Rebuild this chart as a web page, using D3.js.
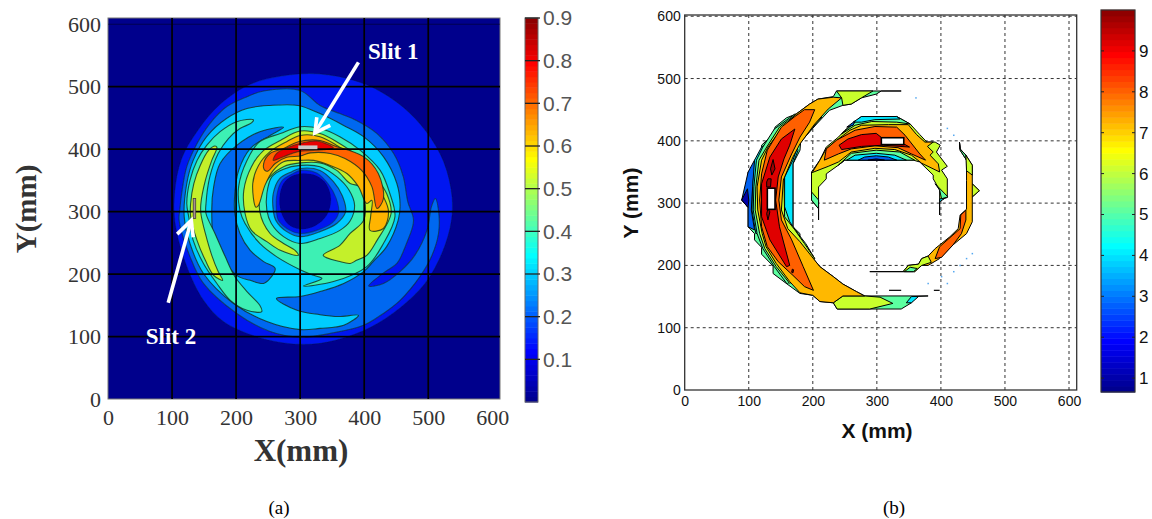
<!DOCTYPE html>
<html>
<head>
<meta charset="utf-8">
<script src="https://cdn.jsdelivr.net/npm/d3@7"></script>
<style>
body { margin: 0; background: #fff; }
svg { display: block; }
</style>
</head>
<body>
<script>
// tick labels
const leftTicks = [0, 100, 200, 300, 400, 500, 600];
const leftGrid = [100, 200, 300, 400, 500];
const rightTicks = [0, 100, 200, 300, 400, 500, 600];
const leftBarTicks = [0.1, 0.2, 0.3, 0.4, 0.5, 0.6, 0.7, 0.8, 0.9];
const rightBarTicks = [1, 2, 3, 4, 5, 6, 7, 8, 9];

// panel (a) contour rings, [x mm, y mm]
const ringOuter = [[320,521],[370,514],[415,498],[460,468],[497,428],[524,380],[537,325],[536,285],[522,235],[495,185],[455,145],[410,115],[365,97],[320,88],[272,90],[225,102],[180,124],[149,158],[122,215],[105,280],[104,330],[115,385],[140,430],[175,472],[222,504],[270,517]];
const ringMid = [[300,494],[331,470],[362,457],[388,446],[420,425],[446,393],[461,356],[468,316],[477,286],[466,249],[451,217],[433,204],[407,181],[430,185],[456,204],[479,230],[498,270],[505,308],[511,321],[516,302],[516,265],[505,228],[487,196],[456,158],[430,137],[399,118],[352,106],[300,99],[253,108],[201,137],[149,185],[128,228],[111,286],[112,302],[115,329],[123,372],[139,409],[159,441],[185,468],[217,484],[243,493]];
const ringCyan = [[297,470],[331,457],[368,438],[399,420],[430,388],[451,345],[456,310],[453,286],[435,244],[414,220],[399,204],[368,185],[331,172],[300,164],[263,161],[295,142],[331,135],[360,132],[391,134],[368,118],[331,113],[300,111],[248,124],[196,153],[149,201],[128,249],[119,292],[123,345],[133,382],[154,420],[185,449],[217,465],[253,470]];
const holeLeft = [[274,435],[237,428],[201,406],[175,377],[165,340],[162,302],[167,249],[201,198],[222,190],[243,185],[253,193],[261,209],[243,220],[222,238],[206,265],[198,297],[198,329],[204,366],[222,401],[253,422]];
const armGreen = [[227,447],[201,444],[175,428],[154,406],[139,382],[128,350],[123,313],[126,292],[133,254],[149,217],[170,185],[191,158],[217,142],[240,140],[237,150],[217,172],[198,196],[183,228],[167,265],[153,297],[153,313],[159,356],[172,393],[188,417],[206,433],[224,442]];
const armYellow = [[167,405],[157,398],[144,374],[134,345],[129,313],[129,292],[139,254],[152,222],[165,198],[179,190],[172,204],[162,230],[152,265],[145,297],[145,313],[152,350],[162,382],[170,403]];
const coreGreen = [[206,302],[204,340],[217,382],[237,412],[269,425],[300,436],[331,433],[362,420],[394,398],[425,366],[440,329],[448,292],[430,249],[404,212],[352,188],[305,181],[334,193],[321,198],[300,207],[263,228],[237,249],[214,281]];
const coreYellow = [[297,230],[269,238],[248,252],[224,270],[214,297],[212,334],[224,372],[243,398],[269,414],[300,429],[331,425],[357,412],[388,390],[417,356],[435,329],[442,297],[420,254],[404,230],[388,222],[378,217],[362,220],[336,230],[362,246],[378,265],[399,286],[401,318],[394,340],[378,345],[357,366],[331,378],[300,378],[274,372],[253,356],[240,334],[237,300],[253,265],[274,249],[292,238]];
const coreGold = [[231,307],[226,345],[235,374],[253,396],[279,412],[300,422],[331,420],[357,406],[386,385],[412,353],[430,324],[438,300],[430,273],[409,270],[410,292],[412,318],[404,313],[391,340],[373,361],[347,374],[321,382],[300,382],[274,380],[258,366],[245,342],[235,310]];
const coreOrange = [[245,366],[243,377],[253,393],[274,401],[297,412],[331,414],[352,406],[399,388],[422,361],[430,321],[420,305],[412,340],[396,366],[370,385],[347,393],[316,394],[300,389],[279,387],[261,377],[250,365]];
const coreRed = [[258,382],[263,393],[284,404],[300,409],[326,413],[352,402],[336,399],[297,396],[274,388]];
const hubGreen = [[300,374],[331,372],[357,356],[376,335],[385,310],[378,285],[362,270],[331,257],[300,249],[274,260],[255,281],[248,302],[248,329],[256,356],[274,368]];
const hubCyan = [[300,369],[331,366],[352,348],[366,325],[371,300],[357,281],[331,268],[300,260],[279,268],[262,286],[258,302],[258,329],[268,353],[287,364]];
const hubBlue = [[300,366],[326,362],[344,344],[356,322],[360,298],[350,282],[326,270],[300,265],[284,270],[266,286],[263,302],[264,329],[272,350],[289,361]];
const hubDark = [[268,324],[274,345],[287,357],[305,361],[326,357],[341,344],[348,321],[342,295],[323,277],[300,272],[281,280],[270,300]];

// slits and arrows of panel (a)
const slitLeft = [[297, 400], [327, 406], [133, 289], [137, 321]];
const arrowLines = [
  [[391,539],[323,426]], [[326,451],[323,426],[347,438]],
  [[94,154],[130,286]], [[108,264],[130,286],[133,259]]
];

// panel (b) outer crescent, [x mm, y mm]
const crescent = [[338,480],[237,480],[232,471],[208,467],[195,459],[174,443],[159,437],[141,422],[138,410],[120,393],[120,379],[109,369],[108,358],[99,350],[98,326],[89,305],[99,293],[99,262],[109,251],[109,241],[120,229],[120,218],[138,199],[138,187],[160,170],[180,155],[200,152],[211,142],[232,140],[238,130],[338,130],[354,140],[359,150],[380,151],[281,151],[268,158],[247,170],[232,182],[211,198],[190,224],[180,241],[180,251],[169,262],[169,363],[180,385],[181,398],[206,427],[226,449],[247,457],[260,459],[276,469],[299,475],[307,480]];
const crescentBlue = [[89,305],[99,350],[109,369],[109,358],[106,326],[104,289],[109,257],[99,262],[99,293]];
const crescentNavy = [[89,305],[98,323],[100,305],[99,293]];
const crescentCyan = [[120,390],[109,369],[106,326],[105,289],[111,251],[169,262],[169,363],[177,385],[160,420]];
const crescentGreen = [[140,419],[122,390],[112,369],[108,326],[107,289],[113,251],[122,227],[140,198],[160,170],[203,211],[189,235],[177,251],[164,270],[156,294],[156,342],[169,369],[177,393],[193,417],[206,433],[172,443]];
const crescentYellow = [[172,441],[148,422],[128,390],[116,369],[111,326],[110,289],[117,251],[125,227],[143,198],[164,171],[203,211],[187,235],[172,257],[156,278],[155,342],[167,374],[180,398],[203,425],[214,438]];
const crescentTop = [[237,480],[294,480],[276,469],[260,459],[247,457],[245,469]];
const crescentFoot = [[238,130],[289,130],[325,139],[305,149],[281,151],[247,151],[232,140]];
const crescentFootCyan = [[346,140],[354,150],[365,150],[354,140]];
const crescentGold = [[208,467],[232,470],[245,469],[224,451],[203,427],[180,395],[169,374],[154,337],[151,289],[161,259],[180,238],[211,198],[232,182],[247,170],[268,158],[281,151],[247,151],[232,140],[211,142],[200,152],[180,156],[164,174],[143,203],[127,230],[121,251],[114,289],[113,326],[120,369],[130,390],[151,419],[174,443],[195,459]];
const crescentOrange = [[203,450],[195,430],[180,406],[167,379],[151,342],[147,305],[151,273],[167,241],[185,198],[201,160],[187,166],[169,184],[146,206],[129,230],[120,262],[117,305],[120,347],[129,385],[151,422],[172,439],[187,450]];
const crescentRed = [[172,419],[164,393],[155,371],[146,342],[142,305],[148,262],[164,200],[159,198],[133,241],[120,278],[120,331],[133,374],[151,403]];
const crescentPeaks = [
  [[138,370],[141,355],[136,345],[134,355]],
  [[130,339],[135,339],[134,326],[128,326],[128,334]],
  [[130,291],[133,286],[130,273],[128,283]],
  [[168,194],[170,193],[169,188],[167,189]]
];

// panel (b) inner arc
const arc = [[198,350],[211,369],[221,390],[240,406],[250,417],[276,439],[331,439],[352,427],[367,410],[378,398],[391,398],[399,393],[393,382],[410,359],[401,353],[410,339],[410,309],[398,305],[398,281],[398,321],[388,339],[388,345],[367,366],[357,369],[250,369],[240,361],[221,347],[221,339],[209,326],[209,273],[209,291],[198,305]];
const arcGreenLeft = [[198,318],[209,305],[209,291],[198,305]];
const arcGreenRight = [[391,331],[411,310],[401,307],[398,321]];
const arcCyanRight = [[398,307],[405,307],[398,302]];
const arcTopGreen = [[245,411],[276,439],[331,439],[352,427],[331,430],[292,431],[266,425]];
const arcTopCyan = [[263,430],[276,439],[331,439],[336,435],[297,434],[276,430]];
const arcTopBlue = [[253,422],[266,432],[263,425]];
const arcBaseGreen = [[240,361],[260,380],[299,385],[336,382],[359,369],[250,369]];
const arcBaseCyan = [[253,369],[266,377],[299,380],[328,377],[346,369]];
const arcBaseBlue = [[271,369],[281,374],[299,376],[318,374],[331,369]];
const arcBaseNavy = [[286,369],[299,371],[312,369]];
const arcGold = [[199,349],[211,369],[221,387],[240,403],[258,417],[276,425],[318,426],[349,426],[362,410],[375,398],[388,398],[379,391],[388,382],[383,377],[396,363],[398,350],[370,364],[354,377],[328,386],[297,388],[260,382],[240,366],[224,359]];
const arcOrange = [[218,369],[221,387],[237,401],[266,417],[297,423],[331,422],[344,409],[367,379],[376,369],[354,379],[333,389],[297,392],[260,387],[240,379]];
const arcRed = [[241,393],[255,403],[276,410],[299,412],[310,403],[344,394],[351,390],[310,393],[276,391],[245,386]];
const slitRight = [[307, 394], [342, 405], [129, 290], [141, 324]];

// panel (b) right hand part
const side = [[429,398],[430,387],[439,377],[449,361],[449,331],[460,320],[449,310],[449,270],[440,251],[419,233],[398,211],[380,200],[370,200],[359,190],[289,190],[341,190],[349,200],[365,202],[370,211],[380,215],[391,227],[414,246],[427,259],[430,281],[440,290],[440,336],[440,369],[430,385]];
const sideOrange = [[439,289],[431,281],[430,259],[398,230],[391,211],[401,213],[419,233],[432,251],[439,273]];
const sideYellow = [[341,190],[349,200],[365,202],[370,211],[380,215],[385,205],[370,200],[359,190]];
const sideGreen = [[343,190],[352,197],[363,195],[357,190]];
const sideTopGreen = [[429,398],[430,387],[439,377],[440,369],[430,385]];
const sideTopYellow = [[439,377],[449,361],[449,345],[440,352]];
const sideTipYellow = [[449,331],[460,320],[449,310]];
const strayLines = [[[319,160],[338,160]], [[389,160],[398,160]]];
const strayDots = [[361,469],[410,420],[420,409],[449,219],[440,211],[430,200],[420,190],[401,182],[380,171],[410,171]];

var svg = d3.select("body").append("svg").attr("width", 1152).attr("height", 519);

var jet = d3.scaleLinear()
  .domain([0, 0.125, 0.375, 0.625, 0.875, 1])
  .range(["#00008f", "#0000ff", "#00ffff", "#ffff00", "#ff0000", "#800000"]);

var navy = "#00008c", bright = "#0018f0", mid = "#0068f0", cyan = "#00ccff", green = "#3cf0b4",
    yellow = "#c4f02c", gold = "#ffb400", orange = "#ff6400", red = "#e80000";

// ---------- panel (a)
var xL = d3.scaleLinear().domain([0, 612]).range([108, 500]);
var yL = d3.scaleLinear().domain([0, 610]).range([399, 18]);

var defs = svg.append("defs");
defs.append("filter").attr("id", "soft").append("feGaussianBlur").attr("stdDeviation", 0.55);

var smooth = d3.line().x(d => xL(d[0])).y(d => yL(d[1])).curve(d3.curveCatmullRomClosed.alpha(0.5));

var gL = svg.append("g").attr("filter", "url(#soft)");
gL.append("rect").attr("x", xL(0)).attr("y", yL(610)).attr("width", xL(612) - xL(0)).attr("height", yL(0) - yL(610))
  .attr("fill", navy).attr("stroke", "#777").attr("stroke-width", 1);

function ring(pts, fill, lineOp) {
  gL.append("path").attr("d", smooth(pts)).attr("fill", fill)
    .attr("stroke", "#10301c").attr("stroke-opacity", lineOp).attr("stroke-width", 1.1);
}
ring(ringOuter, bright, 0.25);
ring(ringMid, mid, 0.6);
ring(ringCyan, cyan, 0.8);
ring(holeLeft, mid, 0.8);
ring(armGreen, green, 0.8);
ring(armYellow, yellow, 0.8);
ring(coreGreen, green, 0.8);
ring(coreYellow, yellow, 0.8);
ring(coreGold, gold, 0.8);
ring(coreOrange, orange, 0.8);
ring(coreRed, red, 0.6);
ring(hubGreen, cyan, 0.8);
ring(hubCyan, mid, 0.7);
ring(hubBlue, bright, 0.4);
ring(hubDark, navy, 0.1);

leftGrid.forEach(function (v) {
  gL.append("line").attr("x1", xL(v)).attr("x2", xL(v)).attr("y1", yL(610)).attr("y2", yL(0))
    .attr("stroke", "#000").attr("stroke-width", 1.7);
  gL.append("line").attr("x1", xL(0)).attr("x2", xL(612)).attr("y1", yL(v)).attr("y2", yL(v))
    .attr("stroke", "#000").attr("stroke-width", 1.7);
});
gL.append("line").attr("x1", xL(0)).attr("x2", xL(612)).attr("y1", yL(600)).attr("y2", yL(600))
  .attr("stroke", "#111").attr("stroke-opacity", 0.5);

// slits
gL.append("rect").attr("x", xL(slitLeft[0][0])).attr("y", yL(slitLeft[1][1]))
  .attr("width", xL(slitLeft[1][0]) - xL(slitLeft[0][0])).attr("height", yL(slitLeft[0][1]) - yL(slitLeft[1][1]))
  .attr("fill", "#c8c8c8");
gL.append("rect").attr("x", xL(slitLeft[2][0])).attr("y", yL(slitLeft[3][1]))
  .attr("width", xL(slitLeft[3][0]) - xL(slitLeft[2][0])).attr("height", yL(slitLeft[2][1]) - yL(slitLeft[3][1]))
  .attr("fill", "#a89090").attr("stroke", "#333").attr("stroke-width", 0.7);

var straight = d3.line().x(d => xL(d[0])).y(d => yL(d[1]));
arrowLines.forEach(function (a) {
  gL.append("path").attr("d", straight(a)).attr("fill", "none")
    .attr("stroke", "#fff").attr("stroke-width", 3.6).attr("stroke-linejoin", "miter");
});

var slitText = svg.append("g").attr("font-family", "'Liberation Serif'").attr("font-weight", "bold")
  .attr("font-size", 23).attr("fill", "#fff");
slitText.append("text").attr("x", xL(406)).attr("y", yL(544)).text("Slit 1");
slitText.append("text").attr("x", xL(59)).attr("y", yL(88)).text("Slit 2");

// axes of panel (a)
var axL = svg.append("g").attr("transform", "translate(0,399)")
  .call(d3.axisBottom(xL).tickValues(leftTicks).tickSize(0).tickPadding(10));
var ayL = svg.append("g").attr("transform", "translate(108,0)")
  .call(d3.axisLeft(yL).tickValues(leftTicks).tickSize(0).tickPadding(7));
[axL, ayL].forEach(function (a) {
  a.select(".domain").remove();
  a.selectAll("text").attr("font-family", "'Liberation Serif'").attr("font-size", 22).attr("fill", "#333");
});
svg.append("text").attr("x", 301).attr("y", 461).attr("text-anchor", "middle")
  .attr("font-family", "'Liberation Serif'").attr("font-weight", "bold").attr("font-size", 31).attr("fill", "#333").text("X(mm)");
svg.append("text").attr("transform", "translate(36,209) rotate(-90)").attr("text-anchor", "middle")
  .attr("font-family", "'Liberation Serif'").attr("font-weight", "bold").attr("font-size", 29).attr("fill", "#333").text("Y(mm)");

// colorbar of panel (a)
var barL = d3.scaleLinear().domain([0, 0.9]).range([402, 18]);
d3.range(0, 0.9, 0.0125).forEach(function (v) {
  svg.append("rect").attr("x", 525).attr("width", 13).attr("y", barL(v + 0.0125)).attr("height", barL(v) - barL(v + 0.0125) + 0.5)
    .attr("fill", jet(v / 0.9));
});
svg.append("rect").attr("x", 525).attr("y", 18).attr("width", 13).attr("height", 384)
  .attr("fill", "none").attr("stroke", "#666");
var cbL = svg.append("g").attr("transform", "translate(538,0)")
  .call(d3.axisRight(barL).tickValues(leftBarTicks).tickSize(0).tickPadding(5).tickFormat(d3.format(".1f")));
cbL.select(".domain").remove();
cbL.selectAll("text").attr("font-family", "'Liberation Sans'").attr("font-size", 21).attr("fill", "#555");
leftBarTicks.forEach(function (v) {
  svg.append("line").attr("x1", 525).attr("x2", 540).attr("y1", barL(v)).attr("y2", barL(v))
    .attr("stroke", "#222").attr("stroke-width", 1.3);
});

// ---------- panel (b)
var xR = d3.scaleLinear().domain([0, 612]).range([684.7, 1076.7]);
var yR = d3.scaleLinear().domain([0, 602]).range([390, 15]);
var poly = d3.line().x(d => xR(d[0])).y(d => yR(d[1])).curve(d3.curveLinearClosed);
var open = d3.line().x(d => xR(d[0])).y(d => yR(d[1]));

svg.append("rect").attr("x", xR(0)).attr("y", yR(602)).attr("width", xR(612) - xR(0)).attr("height", yR(0) - yR(602))
  .attr("fill", "#fff");
rightTicks.slice(1).forEach(function (v) {
  svg.append("line").attr("x1", xR(v)).attr("x2", xR(v)).attr("y1", yR(602)).attr("y2", yR(0))
    .attr("stroke", "#333").attr("stroke-dasharray", "3,3");
  svg.append("line").attr("x1", xR(0)).attr("x2", xR(612)).attr("y1", yR(v)).attr("y2", yR(v))
    .attr("stroke", "#333").attr("stroke-dasharray", "3,3");
});

var gR = svg.append("g");
function shape(pts, fill) {
  gR.append("path").attr("d", poly(pts)).attr("fill", fill)
    .attr("stroke", "#000").attr("stroke-width", 1).attr("stroke-linejoin", "bevel");
}
var rGreen = "#5cffa0", rYellow = "#c8ff2c", rGold = "#ffb800", rOrange = "#ff6000", rRed = "#e00000",
    rDark = "#a00000", rCyan = "#00e8ff", rBlue = "#0060f0", rNavy = "#0000a8";

shape(crescent, rGreen);
shape(crescentBlue, rBlue);
shape(crescentNavy, rNavy);
shape(crescentCyan, rCyan);
shape(crescentGreen, rGreen);
shape(crescentYellow, rYellow);
shape(crescentTop, rYellow);
shape(crescentFoot, rYellow);
shape(crescentFootCyan, rCyan);
shape(crescentGold, rGold);
shape(crescentOrange, rOrange);
shape(crescentRed, rRed);
crescentPeaks.forEach(p => shape(p, rDark));

shape(arc, rYellow);
shape(arcGreenLeft, rGreen);
shape(arcGreenRight, rGreen);
shape(arcCyanRight, rCyan);
shape(arcTopGreen, rGreen);
shape(arcTopCyan, rCyan);
shape(arcTopBlue, rBlue);
shape(arcBaseGreen, rGreen);
shape(arcBaseCyan, rCyan);
shape(arcBaseBlue, rBlue);
shape(arcBaseNavy, rNavy);
shape(arcGold, rGold);
shape(arcOrange, rOrange);
shape(arcRed, rRed);

shape(side, rGold);
shape(sideOrange, rOrange);
shape(sideYellow, rYellow);
shape(sideGreen, rGreen);
shape(sideTopGreen, rGreen);
shape(sideTopYellow, rYellow);
shape(sideTipYellow, rYellow);

strayLines.forEach(function (l) {
  gR.append("path").attr("d", open(l)).attr("stroke", "#000").attr("stroke-width", 1.2);
});
gR.selectAll(".dot").data(strayDots).join("rect").attr("class", "dot")
  .attr("x", d => xR(d[0]) - 0.7).attr("y", d => yR(d[1]) - 0.7).attr("width", 1.5).attr("height", 1.5)
  .attr("fill", "#55a8f0");

// slit rectangles of panel (b)
[[slitRight[0], slitRight[1]], [slitRight[2], slitRight[3]]].forEach(function (s) {
  gR.append("rect").attr("x", xR(s[0][0])).attr("y", yR(s[1][1]))
    .attr("width", xR(s[1][0]) - xR(s[0][0])).attr("height", yR(s[0][1]) - yR(s[1][1]))
    .attr("fill", "#fff").attr("stroke", "#000").attr("stroke-width", 1.6);
});

svg.append("rect").attr("x", xR(0)).attr("y", yR(602)).attr("width", xR(612) - xR(0)).attr("height", yR(0) - yR(602))
  .attr("fill", "none").attr("stroke", "#333").attr("stroke-width", 1.3);

var axR = svg.append("g").attr("transform", "translate(0,390)")
  .call(d3.axisBottom(xR).tickValues(rightTicks).tickSize(0).tickPadding(6));
var ayR = svg.append("g").attr("transform", "translate(684.7,0)")
  .call(d3.axisLeft(yR).tickValues(rightTicks).tickSize(0).tickPadding(4));
[axR, ayR].forEach(function (a) {
  a.select(".domain").remove();
  a.selectAll("text").attr("font-family", "'Liberation Sans'").attr("font-size", 14).attr("fill", "#111");
});
svg.append("text").attr("x", 877).attr("y", 438).attr("text-anchor", "middle")
  .attr("font-family", "'Liberation Sans'").attr("font-weight", "bold").attr("font-size", 21).attr("fill", "#111").text("X (mm)");
svg.append("text").attr("transform", "translate(638,203) rotate(-90)").attr("text-anchor", "middle")
  .attr("font-family", "'Liberation Sans'").attr("font-weight", "bold").attr("font-size", 21).attr("fill", "#111").text("Y (mm)");

// colorbar of panel (b)
var barR = d3.scaleLinear().domain([0.66, 10]).range([392, 10]);
d3.range(0.66, 10, 0.146).forEach(function (v) {
  svg.append("rect").attr("x", 1101).attr("width", 34).attr("y", barR(v + 0.146)).attr("height", barR(v) - barR(v + 0.146) + 0.5)
    .attr("fill", jet((v - 0.66) / 9.34));
});
svg.append("rect").attr("x", 1101).attr("y", 10).attr("width", 34).attr("height", 382)
  .attr("fill", "none").attr("stroke", "#333").attr("stroke-width", 1.2);
var cbR = svg.append("g").attr("transform", "translate(1135,0)")
  .call(d3.axisRight(barR).tickValues(rightBarTicks).tickSize(0).tickPadding(4));
cbR.select(".domain").remove();
cbR.selectAll("text").attr("font-family", "'Liberation Sans'").attr("font-size", 17).attr("fill", "#111");
rightBarTicks.forEach(function (v) {
  svg.append("line").attr("x1", 1101).attr("x2", 1104).attr("y1", barR(v)).attr("y2", barR(v)).attr("stroke", "#222");
  svg.append("line").attr("x1", 1132).attr("x2", 1135).attr("y1", barR(v)).attr("y2", barR(v)).attr("stroke", "#222");
});

// captions
svg.append("text").attr("x", 279).attr("y", 514).attr("text-anchor", "middle")
  .attr("font-family", "'Liberation Serif'").attr("font-size", 19).attr("fill", "#000").text("(a)");
svg.append("text").attr("x", 894).attr("y", 514).attr("text-anchor", "middle")
  .attr("font-family", "'Liberation Serif'").attr("font-size", 19).attr("fill", "#000").text("(b)");
</script>
</body>
</html>
